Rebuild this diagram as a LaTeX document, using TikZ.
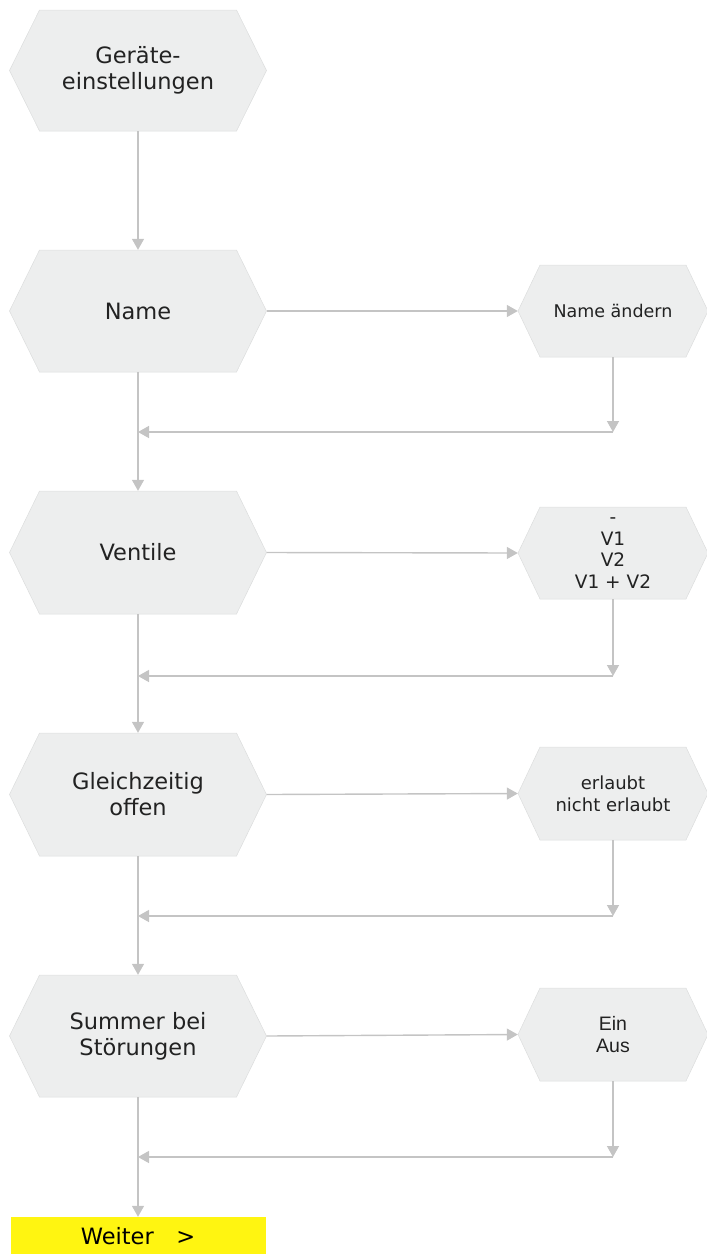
\documentclass[tikz,border=0pt]{standalone}
\usepackage{fontspec}
\setmainfont{DejaVu Sans}
\newfontfamily\arialfont{Liberation Sans}
\usetikzlibrary{arrows.meta,calc}

\definecolor{hexfill}{HTML}{EDEEEE}
\definecolor{hexedge}{HTML}{DCDDDD}
\definecolor{linegray}{HTML}{C4C4C4}
\definecolor{txt}{HTML}{222222}
\definecolor{nextyellow}{HTML}{FFF511}

\tikzset{
  flow/.style={draw=linegray, line width=1.4pt},
  flowarrow/.style={flow, -{Triangle[length=11pt,width=12pt]}},
  mainlabel/.style={font=\fontsize{22.5}{26}\selectfont, text=txt, align=center},
  sidelabel/.style={font=\fontsize{18}{22}\selectfont, text=txt, align=center},
}

% hexagon: name, centre x, centre y, width, height, inset
\newcommand{\hexshape}[6]{%
  \path[fill=hexfill, draw=hexedge, line width=0.5pt]
    ({#2-#4/2+#6},{#3-#5/2}) -- ({#2+#4/2-#6},{#3-#5/2}) -- ({#2+#4/2},{#3})
    -- ({#2+#4/2-#6},{#3+#5/2}) -- ({#2-#4/2+#6},{#3+#5/2}) -- ({#2-#4/2},{#3}) -- cycle;
  \node[inner sep=0pt, minimum width=#4*1pt, minimum height=#5*1pt] (#1) at (#2,#3) {};%
}

\begin{document}
\begin{tikzpicture}[x=1pt, y=-1pt]
\useasboundingbox (0,0) rectangle (707,1254);

% left column
\hexshape{g}{138}{70.5}{257}{121}{30}
\hexshape{name}{138}{311}{257}{122}{30}
\hexshape{vent}{138}{552.5}{257}{123}{30}
\hexshape{gleich}{138}{794.5}{257}{123}{30}
\hexshape{summer}{138}{1036}{257}{122}{30}

% right column
\hexshape{rname}{613}{311}{190}{92}{22}
\hexshape{rvent}{613}{553}{190}{92}{22}
\hexshape{rgleich}{613}{793.5}{190}{93}{22}
\hexshape{rsummer}{613}{1034.5}{190}{93}{22}

\node[mainlabel] at (g) {Geräte-\\einstellungen};
\node[mainlabel] at (name) {Name};
\node[mainlabel] at (vent) {Ventile};
\node[mainlabel] at (gleich) {Gleichzeitig\\offen};
\node[mainlabel] at (summer) {Summer bei\\Störungen};

\node[sidelabel, font=\fontsize{17.5}{21}\selectfont] at (rname) {Name ändern};
\node[sidelabel, font=\fontsize{18.5}{21.5}\selectfont] at (rvent) {-\\V1\\V2\\V1 + V2};
\node[sidelabel] at (rgleich) {erlaubt\\nicht erlaubt};
\node[sidelabel, font=\arialfont\fontsize{19.5}{21.5}\selectfont] at (rsummer) {Ein\\Aus};

% next button
\node[fill=nextyellow, minimum width=255pt, minimum height=38pt, inner sep=0pt,
      font=\fontsize{22.5}{26}\selectfont, text=black] (weiter) at (138,1236) {Weiter\hspace{1em}>};

% junction points of the return lines
\coordinate (c1) at (613,432);  \coordinate (j1) at (138,432);
\coordinate (c2) at (613,676);  \coordinate (j2) at (138,676);
\coordinate (c3) at (613,916);  \coordinate (j3) at (138,916);
\coordinate (c4) at (613,1157); \coordinate (j4) at (138,1157);

% main flow
\draw[flowarrow] (g.south) -- (name.north);
\draw[flowarrow] (name.south) -- (vent.north);
\draw[flowarrow] (vent.south) -- (gleich.north);
\draw[flowarrow] (gleich.south) -- (summer.north);
\draw[flowarrow] (summer.south) -- (weiter.north);

% side branches
\draw[flowarrow] (name.east) -- (rname.west);
\draw[flowarrow] (vent.east) -- (rvent.west);
\draw[flowarrow] (gleich.east) -- (rgleich.west);
\draw[flowarrow] (summer.east) -- (rsummer.west);

\draw[flowarrow] (rname.south) -- (c1);
\draw[flowarrow] (c1) -- (j1);
\draw[flowarrow] (rvent.south) -- (c2);
\draw[flowarrow] (c2) -- (j2);
\draw[flowarrow] (rgleich.south) -- (c3);
\draw[flowarrow] (c3) -- (j3);
\draw[flowarrow] (rsummer.south) -- (c4);
\draw[flowarrow] (c4) -- (j4);
\end{tikzpicture}
\end{document}
